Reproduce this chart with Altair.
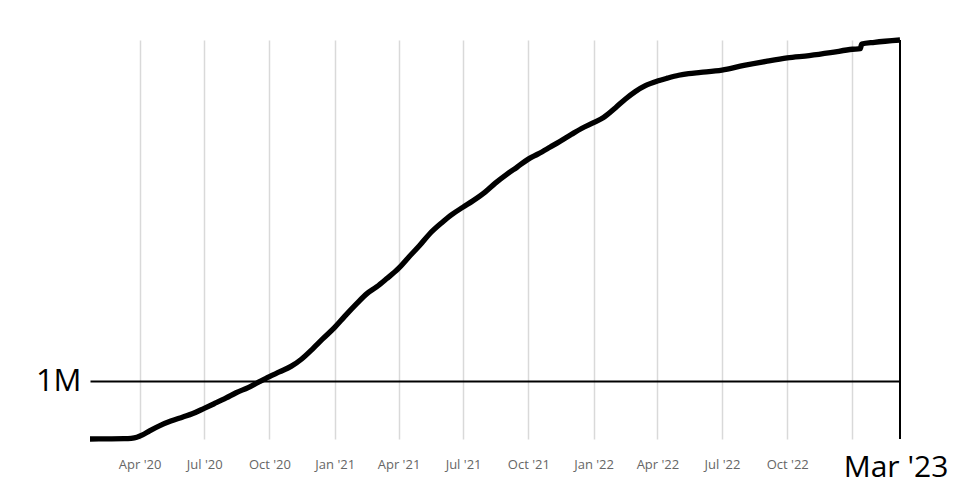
import altair as alt
import pandas as pd

dates = [
    "2020-01-22", "2020-02-15", "2020-03-10", "2020-03-20", "2020-03-28",
    "2020-04-05", "2020-04-15", "2020-05-01", "2020-05-15", "2020-06-01",
    "2020-06-15", "2020-07-01", "2020-07-15", "2020-08-01", "2020-08-15",
    "2020-09-01", "2020-09-15", "2020-10-01", "2020-10-15", "2020-11-01",
    "2020-11-15", "2020-12-01", "2020-12-15", "2021-01-01", "2021-01-15",
    "2021-02-01", "2021-02-15", "2021-03-01", "2021-03-15", "2021-04-01",
    "2021-04-15", "2021-05-01", "2021-05-15", "2021-06-01", "2021-06-15",
    "2021-07-01", "2021-07-15", "2021-08-01", "2021-08-15", "2021-09-01",
    "2021-09-15", "2021-10-01", "2021-10-15", "2021-11-01", "2021-11-15",
    "2021-12-01", "2021-12-15", "2022-01-01", "2022-01-15", "2022-02-01",
    "2022-02-15", "2022-03-01", "2022-03-15", "2022-04-01", "2022-04-15",
    "2022-05-01", "2022-05-15", "2022-06-01", "2022-07-01", "2022-08-01",
    "2022-09-01", "2022-10-01", "2022-11-01", "2022-12-01", "2023-01-01",
    "2023-01-12", "2023-01-14", "2023-02-01", "2023-03-09",
]
values_m = [
    0.0, 0.002, 0.005, 0.012, 0.03,
    0.07, 0.14, 0.24, 0.31, 0.38,
    0.44, 0.53, 0.61, 0.71, 0.80,
    0.89, 0.98, 1.08, 1.16, 1.26,
    1.38, 1.56, 1.73, 1.93, 2.12,
    2.34, 2.51, 2.63, 2.77, 2.95,
    3.14, 3.35, 3.55, 3.74, 3.88,
    4.01, 4.12, 4.27, 4.42, 4.58,
    4.70, 4.84, 4.93, 5.05, 5.15,
    5.27, 5.37, 5.47, 5.56, 5.73,
    5.88, 6.01, 6.11, 6.19, 6.24,
    6.29, 6.32, 6.34, 6.38, 6.46,
    6.53, 6.59, 6.63, 6.68, 6.74,
    6.75, 6.83, 6.86, 6.90,
]
tick_dates = [
    "2020-04-01", "2020-07-01", "2020-10-01", "2021-01-01", "2021-04-01",
    "2021-07-01", "2021-10-01", "2022-01-01", "2022-04-01", "2022-07-01",
    "2022-10-01", "2023-01-01",
]
end_label = "Mar '23"
ref_value = 1_000_000
ref_label = "1M"

df = pd.DataFrame({"date": dates, "value": [v * 1e6 for v in values_m]})
last = pd.DataFrame({"date": [dates[-1]], "value": [values_m[-1] * 1e6],
                     "zero": [0], "label": [end_label]})

tick_ms = [int(pd.Timestamp(d, tz="UTC").value // 10**6) for d in tick_dates]
ymax = values_m[-1] * 1e6

xscale = alt.Scale(type="utc", nice=False)
yscale = alt.Scale(domain=[0, ymax], nice=False, zero=True)

line = alt.Chart(df).mark_line(color="black", strokeWidth=5.3, interpolate="monotone").encode(
    x=alt.X("date:T", scale=xscale, title=None,
            axis=alt.Axis(values=tick_ms, grid=True, gridColor="#d9d9d9", gridWidth=1.5,
                          ticks=False, domain=False, labelFontSize=13, labelColor="#666666",
                          labelFont="Open Sans", labelPadding=19,
                          labelExpr="utcFormat(datum.value, '%Y') == '2023' ? '' : utcFormat(datum.value, \"%b '%y\")")),
    y=alt.Y("value:Q", scale=yscale, title=None,
            axis=alt.Axis(values=[ref_value], grid=True, gridColor="black", gridWidth=2,
                          ticks=False, domain=False, labelFontSize=31, labelColor="black",
                          labelFont="Open Sans", labelPadding=9,
                          labelExpr=f"'{ref_label}'")),
)

rule = alt.Chart(last).mark_rule(color="black", strokeWidth=2).encode(
    x="date:T", y="value:Q", y2="zero:Q",
)

text = alt.Chart(last).mark_text(font="Open Sans", fontSize=30, color="black",
                                 align="center", baseline="alphabetic", dx=-4).encode(
    x="date:T", y=alt.value(437), text="label:N",
)

chart = alt.layer(line, rule, text).properties(
    width=810, height=399,
    autosize=alt.AutoSizeParams(type="none"),
    padding={"left": 82, "top": 32, "right": 52, "bottom": 44},
).configure_view(stroke=None)

chart.save("out.html", embed_options={"renderer": "svg", "actions": False})
